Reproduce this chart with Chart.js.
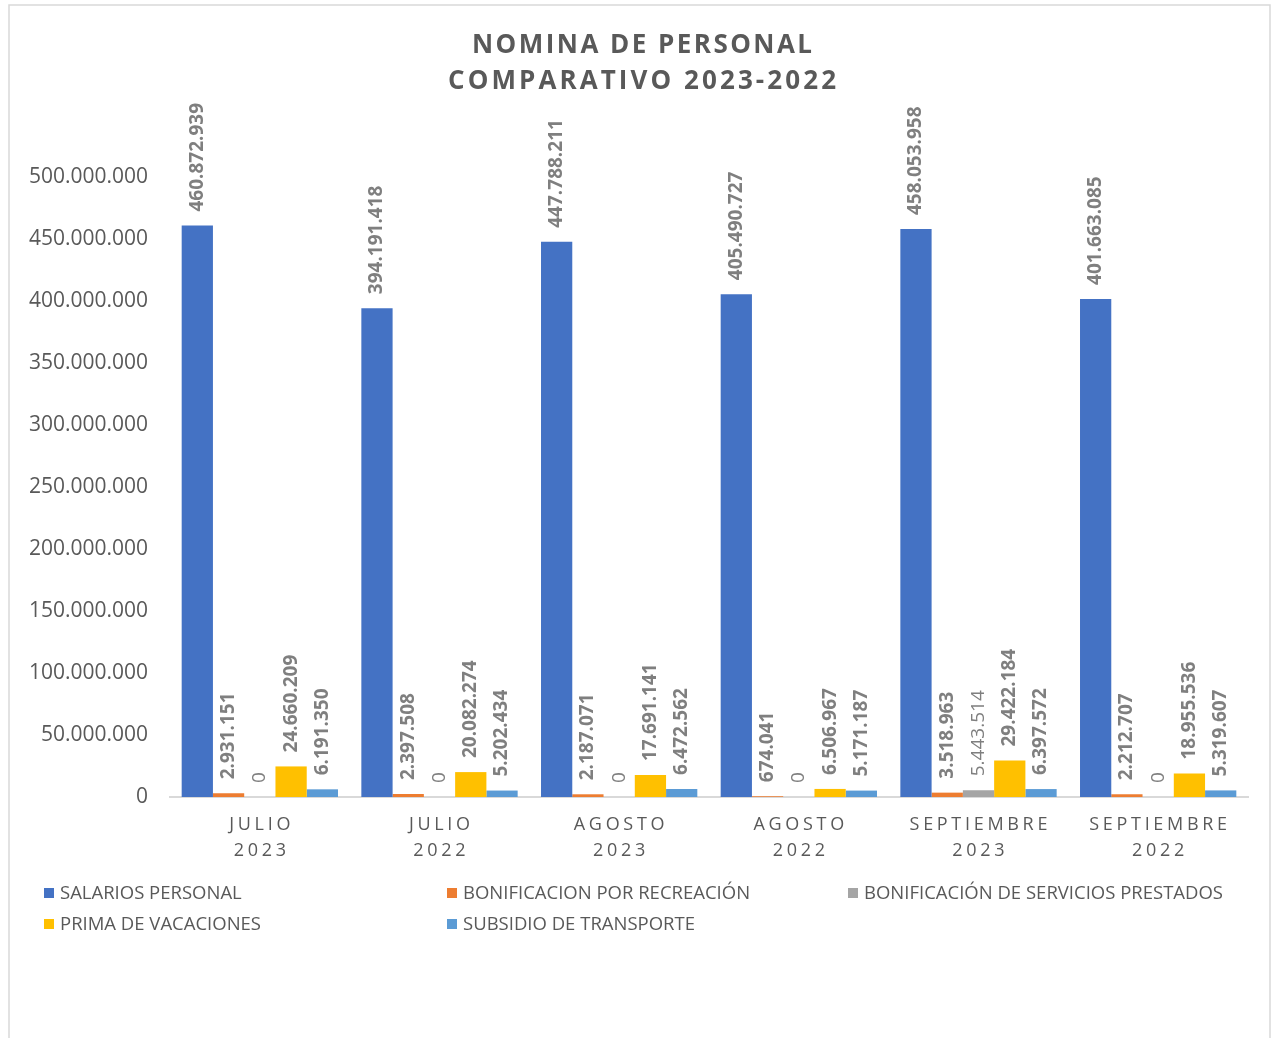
<!DOCTYPE html>
<html><head><meta charset="utf-8">
<script src="https://cdn.jsdelivr.net/npm/chart.js@4"></script>
<style>html,body{margin:0;padding:0;background:#fff;overflow:hidden}#wrap{position:relative;width:1277px;height:1038px}</style>
</head><body><div id="wrap"><canvas id="c"></canvas></div>
<script>
const categories = [['JULIO','2023'],['JULIO','2022'],['AGOSTO','2023'],['AGOSTO','2022'],['SEPTIEMBRE','2023'],['SEPTIEMBRE','2022']];
const seriesNames = ['SALARIOS PERSONAL','BONIFICACION POR RECREACIÓN','BONIFICACIÓN DE SERVICIOS PRESTADOS','PRIMA DE VACACIONES','SUBSIDIO DE TRANSPORTE'];
const salariosPersonal = [460872939, 394191418, 447788211, 405490727, 458053958, 401663085];
const bonifRecreacion = [2931151, 2397508, 2187071, 674041, 3518963, 2212707];
const bonifServicios = [0, 0, 0, 0, 5443514, 0];
const primaVacaciones = [24660209, 20082274, 17691141, 6506967, 29422184, 18955536];
const subsidioTransporte = [6191350, 5202434, 6472562, 5171187, 6397572, 5319607];
const seriesColors = ['#4472C4','#ED7D31','#A5A5A5','#FFC000','#5B9BD5'];
const titleLines = ['NOMINA DE PERSONAL','COMPARATIVO 2023-2022'];
const yMax = 500000000, yStep = 50000000;

const FONT = '"Open Sans", "DejaVu Sans", sans-serif';
const TXT = '#595959';
function fmt(v){ return String(Math.round(v)).replace(/\B(?=(\d{3})+(?!\d))/g,'.'); }

const seriesData = [salariosPersonal, bonifRecreacion, bonifServicios, primaVacaciones, subsidioTransporte];

const framePlugin = {
  id:'frame',
  beforeDraw(chart){
    const ctx = chart.ctx;
    ctx.save();
    ctx.fillStyle = '#fff';
    ctx.fillRect(0,0,chart.width,chart.height);
    ctx.strokeStyle = '#d9d9d9';
    ctx.lineWidth = 1.5;
    ctx.strokeRect(9,5,1261,1045);
    ctx.restore();
  }
};

const labelsPlugin = {
  id:'valueLabels',
  afterDatasetsDraw(chart){
    const ctx = chart.ctx;
    chart.data.datasets.forEach((ds,i)=>{
      const meta = chart.getDatasetMeta(i);
      meta.data.forEach((el,j)=>{
        ctx.save();
        ctx.translate(el.x, el.y - 14);
        ctx.rotate(-Math.PI/2);
        ctx.font = (i===2 ? '' : 'bold ') + '19px ' + FONT;
        ctx.fillStyle = '#7f7f7f';
        ctx.textAlign = 'left';
        ctx.textBaseline = 'middle';
        ctx.fillText(fmt(ds.data[j]), 0, 0);
        ctx.restore();
      });
    });
  }
};

function spacedText(ctx, text, cx, y, ls){
  ctx.letterSpacing = ls + 'px';
  ctx.textAlign = 'center';
  ctx.fillText(text, cx + ls/2, y);
  ctx.letterSpacing = '0px';
}

const decorPlugin = {
  id:'decor',
  afterDraw(chart){
    const ctx = chart.ctx;
    ctx.save();
    // title
    ctx.fillStyle = TXT;
    ctx.textBaseline = 'middle';
    ctx.font = 'bold 26px ' + FONT;
    const targets = [340, 388];
    const ys = [46, 82];
    titleLines.forEach((t,k)=>{
      ctx.letterSpacing = '0px';
      const w = ctx.measureText(t).width;
      const ls = Math.max(0, (targets[k]-w)/(t.length-1));
      spacedText(ctx, t, 642, ys[k], ls);
    });
    // x labels
    const xs = chart.scales.x;
    ctx.font = '18px ' + FONT;
    ctx.fillStyle = TXT;
    chart.data.labels.forEach((lab,i)=>{
      const x = xs.getPixelForValue(i);
      spacedText(ctx, lab[0], x, 825, 3.7);
      spacedText(ctx, lab[1], x, 851, 3.7);
    });
    // legend
    const cols = [44, 447, 848];
    const rows = [893, 924];
    ctx.font = '18.5px ' + FONT;
    ctx.textAlign = 'left';
    chart.data.datasets.forEach((ds,i)=>{
      const cx = cols[i%3], cy = rows[Math.floor(i/3)];
      ctx.fillStyle = ds.backgroundColor;
      ctx.fillRect(cx, cy-5, 10, 10);
      ctx.fillStyle = TXT;
      ctx.fillText(ds.label, cx+16, cy+1);
    });
    ctx.restore();
  }
};

new Chart(document.getElementById('c'), {
  type:'bar',
  data:{
    labels: categories,
    datasets: seriesNames.map((n,i)=>({
      label:n, data:seriesData[i], backgroundColor:seriesColors[i],
      categoryPercentage:0.87, barPercentage:1.0, borderWidth:0
    }))
  },
  options:{
    responsive:true, maintainAspectRatio:false, animation:false,
    layout:{padding:{top:177,right:29,bottom:241,left:0}},
    plugins:{legend:{display:false}, title:{display:false}, tooltip:{enabled:false}},
    scales:{
      x:{
        grid:{display:false},
        border:{display:true,color:'#d9d9d9',width:2},
        ticks:{display:false},
        afterFit(s){ s.height = 0; }
      },
      y:{
        min:0, max:yMax,
        grid:{display:false, drawTicks:false},
        border:{display:false},
        ticks:{stepSize:yStep, padding:22, color:TXT, font:{size:21, family:FONT}, callback:(v)=>fmt(v)},
        afterFit(s){ s.width = 170; }
      }
    }
  },
  plugins:[framePlugin, labelsPlugin, decorPlugin]
});
</script>
</body></html>
